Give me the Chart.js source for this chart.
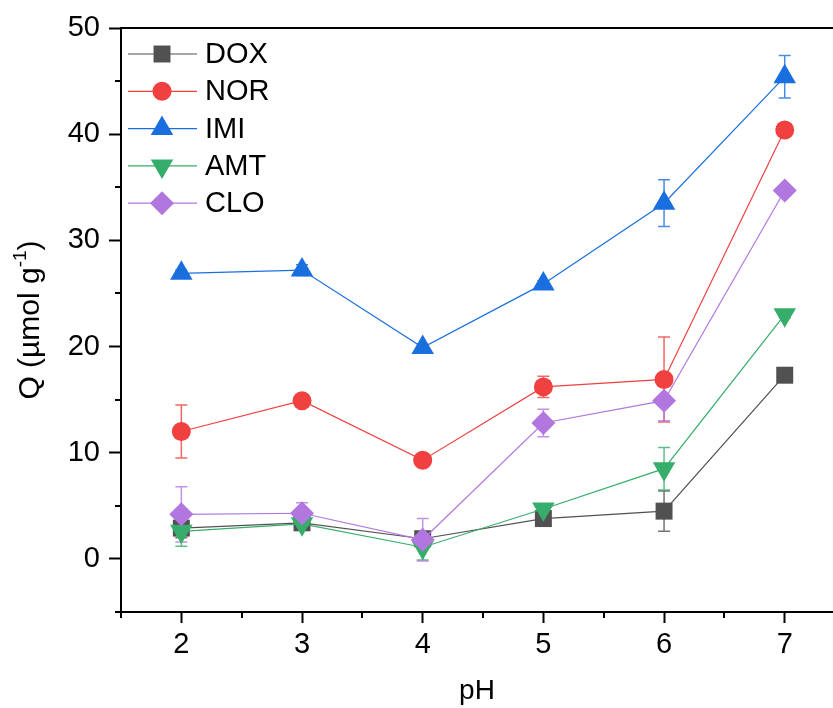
<!DOCTYPE html>
<html>
<head>
<meta charset="utf-8">
<script src="https://cdn.jsdelivr.net/npm/chart.js@4/dist/chart.umd.min.js"></script>
<style>
  html, body { margin: 0; padding: 0; background: #fff; overflow: hidden; }
  canvas { display: block; }
</style>
</head>
<body>
<canvas id="grafico" width="833" height="708"></canvas>
<script>
// valores
const phValues = [2, 3, 4, 5, 6, 7];
const seriesNames = ['DOX', 'NOR', 'IMI', 'AMT', 'CLO'];

const doxQ   = [2.9, 3.4, 1.9, 3.8, 4.5, 17.3];
const doxErr = [0.9, 0.4, 0.5, 0.3, 1.9, 0.5];
const norQ   = [12.0, 14.9, 9.3, 16.2, 16.9, 40.4];
const norErr = [2.5, 0.3, 0.3, 1.0, 4.0, 0.6];
const imiQ   = [26.9, 27.2, 19.9, 25.9, 33.5, 45.4];
const imiErr = [0.3, 0.5, 0.3, 0.3, 2.2, 2.0];
const amtQ   = [2.6, 3.3, 1.1, 4.7, 8.5, 23.0];
const amtErr = [1.4, 0.5, 1.2, 0.3, 2.0, 0.3];
const cloQ   = [4.2, 4.3, 1.8, 12.8, 14.9, 34.7];
const cloErr = [2.6, 1.0, 2.0, 1.3, 1.9, 0.4];

const xTicks = [2, 3, 4, 5, 6, 7];
const yTicks = [0, 10, 20, 30, 40, 50];

const cores = ['#515151', '#F14040', '#1A6FDF', '#37AD6B', '#B177DE'];
const FONTE = "'Liberation Sans', Arial, sans-serif";

function pontos(valores) {
  return phValues.map((x, i) => ({ x: x, y: valores[i] }));
}

// desenha um marcador (usado na legenda)
function marcador(ctx, estilo, x, y, r, cor) {
  ctx.save();
  ctx.fillStyle = cor;
  ctx.beginPath();
  if (estilo === 'rect') {
    const s = r * Math.SQRT1_2;
    ctx.rect(x - s, y - s, 2 * s, 2 * s);
  } else if (estilo === 'circle') {
    ctx.arc(x, y, r, 0, Math.PI * 2);
  } else if (estilo === 'triangle' || estilo === 'down') {
    const sinal = estilo === 'down' ? -1 : 1;
    for (let k = 0; k < 3; k++) {
      const a = k * 2 * Math.PI / 3;
      const px = x + Math.sin(a) * r * sinal;
      const py = y - Math.cos(a) * r * sinal;
      if (k === 0) ctx.moveTo(px, py); else ctx.lineTo(px, py);
    }
  } else {
    ctx.moveTo(x, y - r); ctx.lineTo(x + r, y); ctx.lineTo(x, y + r); ctx.lineTo(x - r, y);
  }
  ctx.closePath();
  ctx.fill();
  ctx.restore();
}

// barras de erro
const barrasErro = {
  id: 'barrasErro',
  beforeDatasetsDraw(chart) {
    const ctx = chart.ctx;
    const escY = chart.scales.y;
    chart.data.datasets.forEach((ds, di) => {
      const meta = chart.getDatasetMeta(di);
      ctx.save();
      ctx.strokeStyle = ds.borderColor;
      ctx.globalAlpha = 0.8;
      ctx.lineWidth = 1.5;
      meta.data.forEach((pt, i) => {
        const v = ds.data[i].y, e = ds.erros[i];
        const yt = escY.getPixelForValue(v + e);
        const yb = escY.getPixelForValue(v - e);
        ctx.beginPath();
        ctx.moveTo(pt.x, yt); ctx.lineTo(pt.x, yb);
        ctx.moveTo(pt.x - 6, yt); ctx.lineTo(pt.x + 6, yt);
        ctx.moveTo(pt.x - 6, yb); ctx.lineTo(pt.x + 6, yb);
        ctx.stroke();
      });
      ctx.restore();
    });
  }
};

// moldura, ticks menores, título do eixo y e legenda
const extras = {
  id: 'extras',
  afterDraw(chart) {
    const ctx = chart.ctx;
    const area = chart.chartArea;
    const ex = chart.scales.x, ey = chart.scales.y;
    ctx.save();
    ctx.strokeStyle = '#000';
    ctx.lineWidth = 2;
    ctx.beginPath();
    ctx.moveTo(area.left - 1, area.top); ctx.lineTo(area.right, area.top);
    ex.ticks.forEach(t => {
      if (Number.isInteger(t.value * 2) && !Number.isInteger(t.value) && t.value <= ex.max) {
        const px = Math.round(ex.getPixelForValue(t.value));
        ctx.moveTo(px, area.bottom); ctx.lineTo(px, area.bottom + 6);
      }
    });
    ey.ticks.forEach(t => {
      if (t.value % 10 !== 0) {
        const py = Math.round(ey.getPixelForValue(t.value));
        ctx.moveTo(area.left, py); ctx.lineTo(area.left - 6, py);
      }
    });
    ctx.stroke();

    // título do eixo y com sobrescrito
    ctx.translate(31, 320);
    ctx.rotate(-Math.PI / 2);
    ctx.fillStyle = '#000';
    ctx.textBaseline = 'middle';
    const f1 = '30px ' + FONTE, f2 = '19px ' + FONTE;
    const a = 'Q (\u00B5mol g', b = '-1', c = ')';
    ctx.font = f1; const wa = ctx.measureText(a).width, wc = ctx.measureText(c).width;
    ctx.font = f2; const wb = ctx.measureText(b).width;
    let x0 = -(wa + wb + wc) / 2;
    ctx.font = f1; ctx.textAlign = 'left';
    ctx.fillText(a, x0, 0);
    ctx.font = f2; ctx.fillText(b, x0 + wa, -10);
    ctx.font = f1; ctx.fillText(c, x0 + wa + wb, 0);
    ctx.restore();

    // legenda
    ctx.save();
    const estilos = ['rect', 'circle', 'triangle', 'down', 'diamond'];
    const raios = [12, 9.5, 13, 13, 12];
    chart.data.datasets.forEach((ds, i) => {
      const yy = 54 + i * 37.3;
      ctx.strokeStyle = ds.borderColor;
      ctx.lineWidth = 1.2;
      ctx.beginPath();
      ctx.moveTo(128, yy); ctx.lineTo(197, yy);
      ctx.stroke();
      marcador(ctx, estilos[i], 162, yy, raios[i], ds.borderColor);
      ctx.fillStyle = '#000';
      ctx.font = '29px ' + FONTE;
      ctx.textBaseline = 'middle';
      ctx.textAlign = 'left';
      ctx.fillText(ds.label, 205, yy + 1);
    });
    ctx.restore();
  }
};

function serie(i, valores, erros, estilo, raio, rot) {
  return {
    label: seriesNames[i],
    data: pontos(valores),
    erros: erros,
    borderColor: cores[i],
    backgroundColor: cores[i],
    borderWidth: 1.2,
    pointStyle: estilo,
    pointRadius: raio,
    pointRotation: rot || 0,
    pointBorderWidth: 0,
    pointHoverRadius: raio,
    tension: 0,
    order: 5 - i
  };
}

const ctx = document.getElementById('grafico').getContext('2d');
const grafico = new Chart(ctx, {
  type: 'line',
  data: {
    datasets: [
      serie(0, doxQ, doxErr, 'rect', 12),
      serie(1, norQ, norErr, 'circle', 9.5),
      serie(2, imiQ, imiErr, 'triangle', 13),
      serie(3, amtQ, amtErr, 'triangle', 13, 180),
      serie(4, cloQ, cloErr, 'rectRot', 12)
    ]
  },
  options: {
    responsive: false,
    animation: false,
    layout: { autoPadding: false, padding: { top: 28, right: 0, left: 0, bottom: 0 } },
    plugins: { legend: { display: false }, tooltip: { enabled: false } },
    scales: {
      x: {
        type: 'linear',
        bounds: 'data',
        min: 1.5,
        max: 7.4,
        afterFit: s => { s.height = 96; s.paddingLeft = 0; s.paddingRight = 0; },
        border: { display: true, color: '#000', width: 2 },
        grid: {
          drawOnChartArea: false,
          tickLength: 11,
          tickWidth: 2,
          tickColor: c => xTicks.includes(c.tick && c.tick.value) ? '#000' : 'rgba(0,0,0,0)'
        },
        ticks: {
          stepSize: 0.5,
          includeBounds: false,
          autoSkip: false,
          maxRotation: 0,
          minRotation: 0,
          padding: 5,
          color: '#000',
          font: { family: FONTE, size: 29 },
          callback: v => xTicks.includes(v) ? String(v) : ''
        },
        title: {
          display: true,
          text: 'pH',
          color: '#000',
          font: { family: FONTE, size: 28 },
          padding: { top: 0, bottom: 0 }
        }
      },
      y: {
        min: -5,
        max: 50,
        afterFit: s => { s.width = 121; s.paddingTop = 0; s.paddingBottom = 0; },
        border: { display: true, color: '#000', width: 2 },
        grid: {
          drawOnChartArea: false,
          tickLength: 12,
          tickWidth: 2,
          tickColor: c => yTicks.includes(c.tick && c.tick.value) ? '#000' : 'rgba(0,0,0,0)'
        },
        ticks: {
          stepSize: 5,
          autoSkip: false,
          padding: 9,
          color: '#000',
          font: { family: FONTE, size: 29 },
          callback: v => yTicks.includes(v) ? String(v) : ''
        }
      }
    }
  },
  plugins: [barrasErro, extras]
});
</script>
</body>
</html>
